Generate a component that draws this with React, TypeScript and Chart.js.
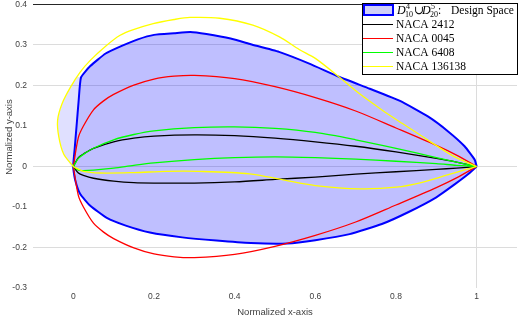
import React, { useEffect, useRef } from 'react';
import { Chart, registerables } from 'chart.js';

Chart.register(...registerables);

// ---- axis ticks ----
const xTicks = [0, 0.2, 0.4, 0.6, 0.8, 1];
const yTicks = [-0.3, -0.2, -0.1, 0, 0.1, 0.2, 0.3, 0.4];
const xGridShown = [1];
const yGridShown = [0.3, 0.2, 0, -0.2];
const yAxisLine = [0.4];

// ---- legend labels ----
const designSpaceLabel = 'Design Space';
const legendLabels = ['NACA 2412', 'NACA 0045', 'NACA 6408', 'NACA 136138'];
const legendColors = ['#000000', '#ff0000', '#00ff00', '#ffff00'];

// ---- design space boundary (blue) ----
const dsUpperX = [0, 0.003, 0.008, 0.013, 0.019, 0.042, 0.08, 0.12, 0.16, 0.2, 0.25, 0.29, 0.33, 0.39, 0.44, 0.51, 0.585, 0.66, 0.735, 0.81, 0.88, 0.93, 0.97, 0.995, 1];
const dsUpperY = [0.007, 0.04, 0.1, 0.16, 0.22, 0.248, 0.279, 0.298, 0.314, 0.325, 0.329, 0.332, 0.327, 0.316, 0.302, 0.283, 0.254, 0.221, 0.192, 0.162, 0.123, 0.086, 0.05, 0.017, 0];
const dsLowerX = [0, 0.005, 0.017, 0.042, 0.083, 0.13, 0.19, 0.27, 0.355, 0.44, 0.53, 0.6, 0.685, 0.765, 0.83, 0.9, 0.947, 0.98, 1];
const dsLowerY = [-0.006, -0.035, -0.068, -0.097, -0.127, -0.146, -0.163, -0.175, -0.183, -0.189, -0.19, -0.182, -0.167, -0.142, -0.113, -0.076, -0.043, -0.018, 0];

// ---- pale leading-edge part of the design space ----
const paleX = [0.019, 0.013, 0.005, 0, -0.012, -0.024, -0.036, -0.039, -0.028, -0.007, 0.01];
const paleY = [0.22, 0.155, 0.056, -0.005, 0.012, 0.031, 0.073, 0.114, 0.155, 0.196, 0.222];

// ---- NACA 2412 ----
const n2412X = [0, 0.0125, 0.025, 0.05, 0.1, 0.15, 0.2, 0.3, 0.4, 0.5, 0.6, 0.7, 0.8, 0.9, 0.95, 1];
const n2412Upper = [0, 0.022, 0.031, 0.045, 0.061, 0.07, 0.075, 0.078, 0.076, 0.07, 0.061, 0.05, 0.036, 0.02, 0.011, 0];
const n2412Lower = [0, -0.016, -0.022, -0.029, -0.036, -0.04, -0.041, -0.041, -0.038, -0.032, -0.026, -0.019, -0.013, -0.007, -0.004, 0];

// ---- NACA 0045 ----
const n0045X = [0, 0.0125, 0.025, 0.05, 0.075, 0.1, 0.15, 0.2, 0.25, 0.3, 0.4, 0.5, 0.6, 0.7, 0.8, 0.9, 0.95, 1];
const n0045Upper = [0, 0.072, 0.1, 0.14, 0.162, 0.178, 0.201, 0.216, 0.223, 0.225, 0.217, 0.197, 0.17, 0.137, 0.095, 0.052, 0.028, 0];
const n0045Lower = [0, -0.072, -0.1, -0.14, -0.162, -0.178, -0.201, -0.216, -0.223, -0.225, -0.217, -0.197, -0.17, -0.137, -0.095, -0.052, -0.028, 0];

// ---- NACA 6408 ----
const n6408X = [0, 0.0125, 0.025, 0.05, 0.1, 0.15, 0.2, 0.3, 0.4, 0.5, 0.6, 0.7, 0.8, 0.9, 0.95, 1];
const n6408Upper = [0, 0.02, 0.03, 0.045, 0.066, 0.079, 0.088, 0.096, 0.098, 0.094, 0.084, 0.066, 0.045, 0.022, 0.011, 0];
const n6408Lower = [0, -0.009, -0.01, -0.009, -0.004, 0.003, 0.009, 0.017, 0.022, 0.024, 0.022, 0.018, 0.013, 0.007, 0.003, 0];

// ---- NACA 136138 ----
const n136138UpperX = [0, -0.024, -0.036, -0.039, -0.028, -0.007, 0.017, 0.042, 0.08, 0.116, 0.149, 0.198, 0.25, 0.289, 0.363, 0.445, 0.511, 0.56, 0.6, 0.659, 0.709, 0.766, 0.816, 0.881, 0.947, 1];
const n136138UpperY = [0, 0.031, 0.073, 0.114, 0.155, 0.196, 0.233, 0.262, 0.297, 0.324, 0.338, 0.353, 0.363, 0.368, 0.366, 0.349, 0.32, 0.289, 0.267, 0.221, 0.18, 0.139, 0.106, 0.064, 0.023, 0];
const n136138LowerX = [0, 0.025, 0.067, 0.15, 0.23, 0.31, 0.437, 0.52, 0.6, 0.71, 0.8, 0.865, 0.923, 0.972, 1];
const n136138LowerY = [0, -0.012, -0.016, -0.015, -0.012, -0.012, -0.018, -0.033, -0.047, -0.055, -0.051, -0.039, -0.022, -0.008, 0];

type P = { x: number; y: number };
const pts = (xs: number[], ys: number[]): P[] => xs.map((x, i) => ({ x, y: ys[i] }));
const closedShape = (ux: number[], uy: number[], lx: number[], ly: number[]): P[] => [
  ...pts(ux, uy).reverse(),
  ...pts(lx, ly),
];

const fmt = (v: number) => {
  const r = Math.round(v * 10) / 10;
  return r === 0 ? '0' : String(r);
};
const has = (arr: number[], v: number) => arr.some((a) => Math.abs(a - v) < 1e-9);

const legendPlugin = {
  id: 'customLegend',
  afterDraw(chart: any) {
    const ctx = chart.ctx as CanvasRenderingContext2D;
    ctx.save();
    const L = 362.5, T = 3.5, R = 517.5, B = 74.5;
    ctx.fillStyle = '#ffffff';
    ctx.fillRect(L, T, R - L, B - T);
    ctx.strokeStyle = '#000000';
    ctx.lineWidth = 1;
    ctx.strokeRect(L, T, R - L, B - T);

    // patch
    ctx.fillStyle = '#d0d0f8';
    ctx.fillRect(364, 5, 29, 10);
    ctx.strokeStyle = '#0000ff';
    ctx.lineWidth = 2;
    ctx.strokeRect(364, 5, 29, 10);

    const serif = '"Liberation Serif", "DejaVu Serif", serif';
    ctx.fillStyle = '#000';
    ctx.textBaseline = 'alphabetic';
    ctx.textAlign = 'left';
    const by = 14;
    ctx.font = `italic 12px ${serif}`;
    ctx.fillText('D', 397, by);
    ctx.font = `8px ${serif}`;
    ctx.fillText('4', 406, by - 5);
    ctx.fillText('10', 405, by + 3);
    ctx.font = `12px ${serif}`;
    ctx.fillText('\u222A', 414, by);
    ctx.font = `italic 12px ${serif}`;
    ctx.fillText('D', 422, by);
    ctx.font = `8px ${serif}`;
    ctx.fillText('5', 431, by - 5);
    ctx.fillText('20', 430, by + 3);
    ctx.font = `11.5px ${serif}`;
    ctx.fillText(':', 438, by);
    ctx.fillText(designSpaceLabel, 451, by);

    const rows = [24, 38, 52, 66];
    legendLabels.forEach((lab, i) => {
      const y = rows[i];
      ctx.strokeStyle = legendColors[i];
      ctx.lineWidth = 1;
      ctx.beginPath();
      ctx.moveTo(363, y + 0.5);
      ctx.lineTo(393, y + 0.5);
      ctx.stroke();
      ctx.fillStyle = '#000';
      ctx.font = `11.5px ${serif}`;
      ctx.fillText(lab, 396, y + 4);
    });
    ctx.restore();
  },
};

export default function App() {
  const ref = useRef<HTMLCanvasElement>(null);
  useEffect(() => {
    if (!ref.current) return;
    const sans = '"Liberation Sans", Arial, sans-serif';
    const common = { pointRadius: 0, pointHoverRadius: 0, showLine: true };
    const chart = new Chart(ref.current, {
      type: 'line',
      data: {
        datasets: [
          {
            ...common,
            label: legendLabels[3],
            data: closedShape(n136138UpperX, n136138UpperY, n136138LowerX, n136138LowerY),
            borderColor: legendColors[3],
            borderWidth: 1.3,
            fill: false,
            tension: 0.3,
            order: 1,
          },
          {
            ...common,
            label: legendLabels[2],
            data: closedShape(n6408X, n6408Upper, n6408X, n6408Lower),
            borderColor: legendColors[2],
            borderWidth: 1.3,
            fill: false,
            tension: 0.3,
            order: 2,
          },
          {
            ...common,
            label: legendLabels[1],
            data: closedShape(n0045X, n0045Upper, n0045X, n0045Lower),
            borderColor: legendColors[1],
            borderWidth: 1.3,
            fill: false,
            tension: 0.3,
            order: 3,
          },
          {
            ...common,
            label: legendLabels[0],
            data: closedShape(n2412X, n2412Upper, n2412X, n2412Lower),
            borderColor: legendColors[0],
            borderWidth: 1.3,
            fill: false,
            tension: 0.3,
            order: 4,
          },
          {
            ...common,
            label: designSpaceLabel,
            data: closedShape(dsUpperX, dsUpperY, dsLowerX, dsLowerY),
            borderColor: '#0000ff',
            borderWidth: 2,
            backgroundColor: 'rgba(0,0,255,0.25)',
            fill: 'shape',
            tension: 0.15,
            order: 5,
          },
          {
            ...common,
            label: 'pale',
            data: pts(paleX, paleY),
            borderColor: 'rgba(0,0,0,0)',
            borderWidth: 0,
            backgroundColor: 'rgba(0,0,255,0.12)',
            fill: 'shape',
            tension: 0.2,
            order: 6,
          },
        ] as any,
      },
      options: {
        responsive: false,
        animation: false,
        layout: { padding: { top: 4.5, right: 3, left: 0, bottom: 0 } },
        plugins: { legend: { display: false }, tooltip: { enabled: false } },
        events: [],
        scales: {
          x: {
            type: 'linear',
            min: -0.1,
            max: 1.1,
            afterBuildTicks: (s: any) => {
              s.ticks = xTicks.map((v) => ({ value: v }));
            },
            afterFit: (s: any) => {
              s.height = 28;
              s.paddingLeft = 0;
              s.paddingRight = 0;
            },
            ticks: {
              font: { family: sans, size: 8.5 },
              color: '#404040',
              padding: 4,
              maxRotation: 0,
              autoSkip: false,
              callback: (v: any) => fmt(Number(v)),
            },
            grid: {
              drawTicks: false,
              color: (c: any) => (c.tick && has(xGridShown, c.tick.value) ? '#dcdcdc' : 'rgba(0,0,0,0)'),
            },
            border: { display: false },
            title: {
              display: true,
              text: 'Normalized x-axis',
              font: { family: sans, size: 9.5, lineHeight: 0.8 },
              color: '#404040',
              padding: { top: 0, bottom: 0 },
            },
          },
          y: {
            type: 'linear',
            min: -0.3,
            max: 0.4,
            afterBuildTicks: (s: any) => {
              s.ticks = yTicks.map((v) => ({ value: v }));
            },
            afterFit: (s: any) => {
              s.width = 33;
              s.paddingTop = 0;
              s.paddingBottom = 0;
            },
            ticks: {
              font: { family: sans, size: 8.5 },
              color: '#404040',
              padding: 6,
              autoSkip: false,
              callback: (v: any) => fmt(Number(v)),
            },
            grid: {
              drawTicks: false,
              color: (c: any) => {
                if (!c.tick) return 'rgba(0,0,0,0)';
                if (has(yAxisLine, c.tick.value)) return '#262626';
                return has(yGridShown, c.tick.value) ? '#dcdcdc' : 'rgba(0,0,0,0)';
              },
            },
            border: { display: false },
            title: {
              display: true,
              text: '       Normalized y-axis',
              font: { family: sans, size: 9.5, lineHeight: 1.2 },
              color: '#404040',
              padding: { top: 4, bottom: 0 },
            },
          },
        },
      } as any,
      plugins: [legendPlugin],
    });
    return () => chart.destroy();
  }, []);

  return (
    <div style={{ position: 'absolute', left: 0, top: 0, width: 520, height: 316, background: '#fff' }}>
      <canvas ref={ref} width={520} height={316} style={{ width: 520, height: 316, display: 'block' }} />
    </div>
  );
}
